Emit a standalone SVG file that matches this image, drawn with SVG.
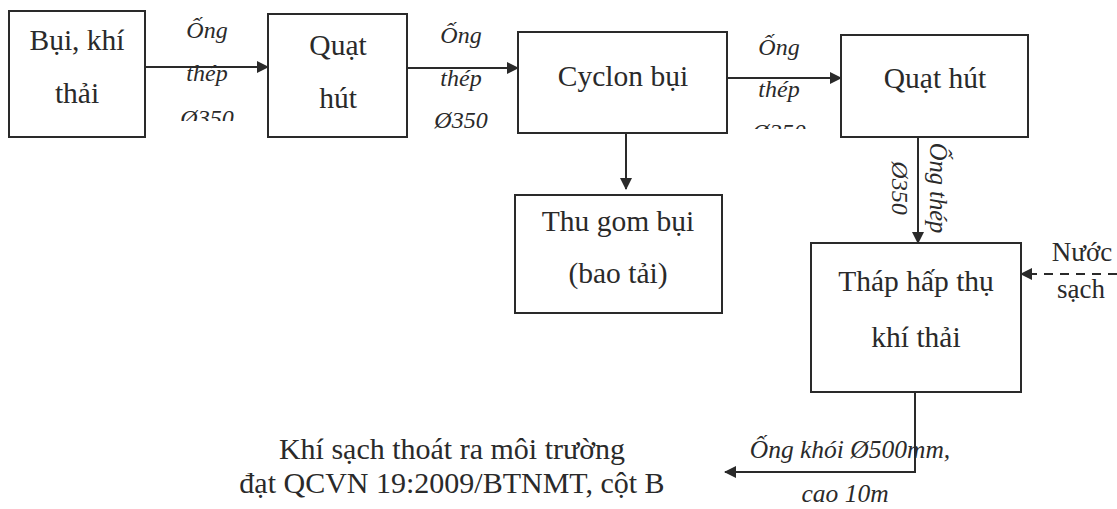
<svg xmlns="http://www.w3.org/2000/svg" width="1117" height="509" viewBox="0 0 1117 509">
  <style>
    .box { fill: #ffffff; stroke: #2a2a2a; stroke-width: 2; }
    .lbl { font-family: "Liberation Serif", "Times New Roman", serif; fill: #2a2a2a; text-anchor: middle; font-size: 29.5px; }
    .pipe { font-family: "Liberation Serif", "Times New Roman", serif; font-style: italic; font-size: 24px; fill: #2a2a2a; text-anchor: middle; }
    .conn { stroke: #2a2a2a; stroke-width: 2; fill: none; }
    .dash { stroke-dasharray: 9 7; }
  </style>
  <defs>
    <marker id="arrow" viewBox="0 0 12 12" refX="11" refY="6" markerWidth="12" markerHeight="12" markerUnits="userSpaceOnUse" orient="auto">
      <path d="M0,0 L12,6 L0,12 Z" fill="#2a2a2a"/>
    </marker>
    <clipPath id="clip1"><rect x="150" y="0" width="110" height="121"/></clipPath>
    <clipPath id="clip3"><rect x="730" y="0" width="110" height="129"/></clipPath>
  </defs>
  <rect width="1117" height="509" fill="#ffffff"/>

  <!-- connectors -->
  <g id="connectors">
    <line class="conn" x1="145" y1="67" x2="268" y2="67" marker-end="url(#arrow)"/>
    <line class="conn" x1="407" y1="68" x2="518" y2="68" marker-end="url(#arrow)"/>
    <line class="conn" x1="727" y1="78" x2="841" y2="78" marker-end="url(#arrow)"/>
    <line class="conn" x1="626" y1="133" x2="626" y2="189" marker-end="url(#arrow)"/>
    <line class="conn" x1="918" y1="137" x2="918" y2="243" marker-end="url(#arrow)"/>
    <line class="conn dash" x1="1117" y1="274" x2="1021" y2="274" marker-end="url(#arrow)"/>
    <polyline class="conn" points="915,392 915,472 725,472" marker-end="url(#arrow)"/>

    <g clip-path="url(#clip1)">
      <text class="pipe" x="207" y="38">Ống</text>
      <text class="pipe" x="207" y="81">thép</text>
      <text class="pipe" x="207" y="126">Ø350</text>
    </g>
    <text class="pipe" x="461" y="43">Ống</text>
    <text class="pipe" x="461" y="86">thép</text>
    <text class="pipe" x="461" y="128">Ø350</text>
    <g clip-path="url(#clip3)">
      <text class="pipe" x="779" y="55">Ống</text>
      <text class="pipe" x="779" y="97">thép</text>
      <text class="pipe" x="779" y="140">Ø350</text>
    </g>
    <text class="pipe" transform="translate(892,188) rotate(90)">Ø350</text>
    <text class="pipe" transform="translate(930,188) rotate(90)" style="font-size:24.5px">Ống thép</text>
    <text class="lbl" x="1082" y="261" style="font-size:27px">Nước</text>
    <text class="lbl" x="1081" y="298" style="font-size:27px">sạch</text>
    <text class="pipe" x="850" y="458" style="font-size:25.5px">Ống khói Ø500mm,</text>
    <text class="pipe" x="845" y="502" style="font-size:25.5px">cao 10m</text>
  </g>

  <g id="n-source">
    <rect class="box" x="9" y="11" width="136" height="126"/>
    <text class="lbl" x="77" y="50">Bụi, khí</text>
    <text class="lbl" x="77" y="103">thải</text>
  </g>

  <g id="n-fan1">
    <rect class="box" x="268" y="14" width="139" height="123"/>
    <text class="lbl" x="338" y="55">Quạt</text>
    <text class="lbl" x="338" y="108">hút</text>
  </g>

  <g id="n-cyclone">
    <rect class="box" x="518" y="32" width="209" height="101"/>
    <text class="lbl" x="623" y="86">Cyclon bụi</text>
  </g>

  <g id="n-fan2">
    <rect class="box" x="841" y="35" width="187" height="102"/>
    <text class="lbl" x="935" y="88">Quạt hút</text>
  </g>

  <g id="n-dust">
    <rect class="box" x="515" y="195" width="207" height="118"/>
    <text class="lbl" x="618" y="231">Thu gom bụi</text>
    <text class="lbl" x="618" y="283">(bao tải)</text>
  </g>

  <g id="n-tower">
    <rect class="box" x="811" y="243" width="210" height="149"/>
    <text class="lbl" x="916" y="291">Tháp hấp thụ</text>
    <text class="lbl" x="916" y="347">khí thải</text>
  </g>

  <g id="n-output">
    <text class="lbl" x="452" y="459" style="font-size:30px">Khí sạch thoát ra môi trường</text>
    <text class="lbl" x="452" y="493" style="font-size:30px">đạt QCVN 19:2009/BTNMT, cột B</text>
  </g>
</svg>
